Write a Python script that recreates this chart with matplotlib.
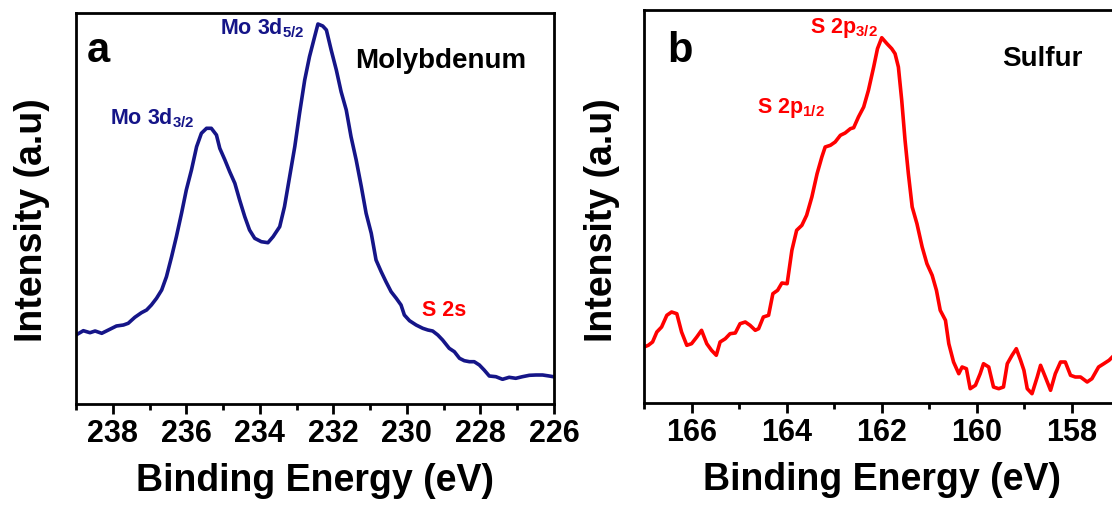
import matplotlib
matplotlib.use("Agg")
import matplotlib.pyplot as plt
from matplotlib.ticker import MultipleLocator

plt.rcParams['font.family'] = ['Liberation Sans', 'DejaVu Sans']
plt.rcParams['font.weight'] = 'bold'
plt.rcParams['mathtext.fontset'] = 'custom'
plt.rcParams['mathtext.bf'] = 'Liberation Sans:bold'
plt.rcParams['mathtext.rm'] = 'Liberation Sans:bold'
plt.rcParams['mathtext.default'] = 'bf'

# ---- Panel a: Mo 3d region ----
mo_energy = [239.00, 238.80, 238.62, 238.48, 238.30, 238.08, 237.90, 237.71, 237.58, 237.40,
             237.22, 237.08, 236.95, 236.81, 236.67, 236.54, 236.40, 236.27, 236.13, 236.00,
             235.86, 235.72, 235.59, 235.45, 235.32, 235.18, 235.09, 234.95, 234.82, 234.68,
             234.55, 234.41, 234.28, 234.14, 233.96, 233.78, 233.64, 233.46, 233.33, 233.19,
             233.05, 232.92, 232.78, 232.65, 232.51, 232.42, 232.29, 232.19, 232.06, 231.92,
             231.79, 231.65, 231.52, 231.38, 231.24, 231.11, 230.97, 230.84, 230.70, 230.57,
             230.43, 230.29, 230.16, 230.07, 229.93, 229.75, 229.57, 229.43, 229.30, 229.16,
             229.03, 228.85, 228.71, 228.57, 228.44, 228.30, 228.17, 228.03, 227.90, 227.76,
             227.58, 227.40, 227.22, 227.04, 226.86, 226.67, 226.49, 226.31, 226.13, 226.02]
mo_intensity = [69.0, 73.3, 71.3, 73.0, 70.7, 74.7, 78.0, 79.0, 80.7, 86.7,
                91.3, 94.0, 99.0, 105.7, 114.0, 127.3, 147.3, 167.3, 190.7, 214.0,
                234.0, 257.3, 270.7, 275.7, 275.7, 269.0, 255.7, 244.0, 232.3, 220.7,
                204.0, 187.3, 174.0, 165.7, 162.3, 161.3, 167.3, 177.3, 197.3, 227.3,
                257.3, 290.7, 324.0, 347.3, 367.3, 380.0, 378.0, 374.0, 354.0, 334.0,
                312.3, 294.0, 267.3, 244.0, 217.3, 190.7, 170.7, 144.0, 132.3, 122.3,
                112.3, 105.7, 99.0, 89.0, 83.3, 79.0, 75.7, 74.0, 73.0, 69.0,
                64.0, 55.7, 52.3, 45.7, 43.3, 42.3, 42.3, 39.0, 34.0, 28.0,
                27.3, 24.7, 26.7, 25.7, 27.3, 28.7, 29.0, 29.0, 28.0, 27.3]

# ---- Panel b: S 2p region ----
s_energy = [167.00, 166.91, 166.82, 166.73, 166.63, 166.52, 166.42, 166.31, 166.21, 166.10,
            166.00, 165.89, 165.79, 165.68, 165.58, 165.48, 165.40, 165.29, 165.19, 165.08,
            164.98, 164.87, 164.77, 164.66, 164.59, 164.49, 164.38, 164.29, 164.19, 164.10,
            163.99, 163.89, 163.79, 163.68, 163.58, 163.47, 163.36, 163.26, 163.19, 163.08,
            162.98, 162.87, 162.77, 162.66, 162.59, 162.49, 162.38, 162.28, 162.17, 162.09,
            162.00, 161.89, 161.79, 161.72, 161.65, 161.58, 161.51, 161.44, 161.36, 161.26,
            161.15, 161.05, 160.94, 160.85, 160.77, 160.66, 160.59, 160.49, 160.38, 160.31,
            160.22, 160.14, 160.03, 159.93, 159.86, 159.75, 159.65, 159.54, 159.44, 159.36,
            159.26, 159.17, 159.08, 159.01, 158.94, 158.84, 158.73, 158.66, 158.56, 158.45,
            158.35, 158.24, 158.14, 158.03, 157.93, 157.82, 157.68, 157.58, 157.44, 157.33,
            157.22, 157.15]
s_intensity = [56.0, 57.7, 61.0, 71.0, 76.0, 87.7, 91.0, 89.3, 71.0, 57.7,
               59.3, 66.0, 72.7, 59.3, 52.7, 47.7, 61.0, 64.3, 69.3, 70.0,
               79.3, 81.0, 77.7, 72.7, 74.3, 86.0, 87.7, 109.3, 112.7, 120.0,
               119.3, 152.7, 172.7, 177.7, 187.7, 206.0, 229.3, 246.0, 256.0, 257.7,
               261.0, 267.7, 270.0, 274.3, 275.3, 286.0, 296.0, 312.7, 336.0, 354.3,
               365.3, 359.3, 354.3, 349.3, 336.0, 302.7, 262.7, 229.3, 196.0, 179.3,
               156.0, 139.3, 127.7, 112.7, 92.7, 82.7, 59.3, 41.0, 29.3, 36.0,
               34.3, 14.3, 17.7, 29.3, 39.3, 36.0, 16.0, 14.3, 16.0, 39.3,
               47.7, 54.3, 42.7, 32.7, 14.3, 9.3, 26.0, 37.7, 26.0, 12.7,
               29.3, 41.0, 41.0, 27.7, 26.0, 26.0, 21.0, 24.3, 36.0, 39.3,
               42.7, 46.0]

navy = '#151588'
red = '#FF0000'

fig = plt.figure(figsize=(11.12, 5.08), dpi=100)
ax1 = fig.add_axes([76/1112, 104/508, 478/1112, 391/508])
ax2 = fig.add_axes([644/1112, 105/508, 475.5/1112, 393/508])

ax1.plot(mo_energy, mo_intensity, color=navy, lw=2.6, solid_joinstyle='round')
ax1.set_xlim(239, 226)
ax1.set_ylim(0, 391)

ax2.plot(s_energy, s_intensity, color=red, lw=2.6, solid_joinstyle='round')
ax2.set_xlim(167, 157)
ax2.set_ylim(0, 393)

for ax in (ax1, ax2):
    ax.xaxis.set_major_locator(MultipleLocator(2))
    ax.xaxis.set_minor_locator(MultipleLocator(1))
    ax.set_yticks([])
    ax.tick_params(axis='x', which='major', direction='out', length=7, width=2,
                   labelsize=22, pad=4)
    ax.tick_params(axis='x', which='minor', direction='out', length=4, width=2)
    for s in ax.spines.values():
        s.set_linewidth(2)
    for lab in ax.get_xticklabels():
        lab.set_fontweight('bold')
    ax.set_xlabel('Binding Energy (eV)', fontsize=27, fontweight='bold', labelpad=10)
    ax.set_ylabel('Intensity (a.u)', fontsize=27, fontweight='bold')

ax1.yaxis.set_label_coords(-0.054, 0.471)
ax2.yaxis.set_label_coords(-0.050, 0.466)

# annotations panel a
ax1.text(0.023, 0.875, 'a', transform=ax1.transAxes, fontsize=30, fontweight='bold',
         color='black', va='baseline', ha='left')
ax1.text(0.584, 0.859, 'Molybdenum', transform=ax1.transAxes, fontsize=20, fontweight='bold',
         color='black', va='baseline', ha='left')
ax1.text(0.301, 0.946, r'Mo 3d$_{5/2}$', transform=ax1.transAxes, fontsize=15.5,
         fontweight='bold', color=navy, va='baseline', ha='left')
ax1.text(0.071, 0.714, r'Mo 3d$_{3/2}$', transform=ax1.transAxes, fontsize=15.5,
         fontweight='bold', color=navy, va='baseline', ha='left')
ax1.text(0.724, 0.225, 'S 2s', transform=ax1.transAxes, fontsize=15.5, fontweight='bold',
         color=red, va='baseline', ha='left')

# annotations panel b
ax2.text(0.050, 0.868, 'b', transform=ax2.transAxes, fontsize=30, fontweight='bold',
         color='black', va='baseline', ha='left')
ax2.text(0.753, 0.858, 'Sulfur', transform=ax2.transAxes, fontsize=20, fontweight='bold',
         color='black', va='baseline', ha='left')
ax2.text(0.349, 0.941, r'S 2p$_{3/2}$', transform=ax2.transAxes, fontsize=15.5,
         fontweight='bold', color=red, va='baseline', ha='left')
ax2.text(0.238, 0.738, r'S 2p$_{1/2}$', transform=ax2.transAxes, fontsize=15.5,
         fontweight='bold', color=red, va='baseline', ha='left')

fig.savefig('out.png', dpi=100)
